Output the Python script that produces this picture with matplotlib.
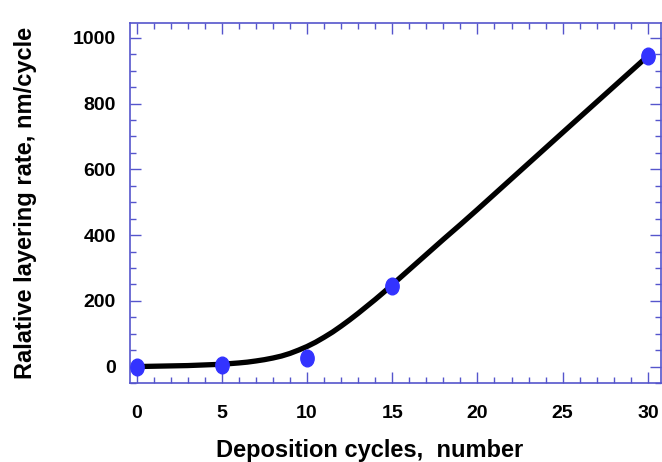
import matplotlib
matplotlib.use("Agg")
import matplotlib.pyplot as plt
from matplotlib.ticker import MultipleLocator
from matplotlib.path import Path
from matplotlib.transforms import Affine2D

# measured points
cycles = [0, 5, 10, 15, 30]
rate = [0, 5, 25, 245, 945]

# fitted curve
curve_x = [0, 1, 2, 3, 4, 5, 5.5, 6, 6.5, 7, 7.5, 8, 8.5, 9, 9.5, 10, 10.5, 11, 11.5, 12,
           12.5, 13, 13.5, 14, 14.5, 15, 15.5, 16, 16.5, 17, 18, 19, 20, 25, 30]
curve_y = [0, 1, 2, 3, 5, 7, 9, 11, 13.5, 17, 21, 26, 32, 40, 50, 61, 74, 89, 105, 123,
           142, 162, 183, 204, 226, 249, 272, 295, 318, 341, 387, 432, 478, 712, 945]

plt.rcParams['font.family'] = ['Liberation Sans', 'DejaVu Sans']
fig = plt.figure(figsize=(6.62, 4.62), dpi=100)
ax = fig.add_axes([0.196, 0.171, 0.802, 0.779])

ellipse = Path.unit_circle().transformed(Affine2D().scale(0.8, 1.0))

ax.plot(curve_x, curve_y, color='black', lw=3.8, solid_capstyle='round',
        solid_joinstyle='round', zorder=2)
ax.plot(cycles, rate, linestyle='none', marker=ellipse, color='#3333ff',
        markersize=12, zorder=3, clip_on=False)

ax.set_xlim(-0.4, 30.75)
ax.set_ylim(-50, 1045)
ax.xaxis.set_major_locator(MultipleLocator(5))
ax.xaxis.set_minor_locator(MultipleLocator(1))
ax.yaxis.set_major_locator(MultipleLocator(200))
ax.yaxis.set_minor_locator(MultipleLocator(50))

spc = '#5555cc'
for s in ax.spines.values():
    s.set_color(spc)
    s.set_linewidth(1.2)
ax.tick_params(which='both', direction='in', top=True, right=True, color=spc, width=1)
ax.tick_params(which='major', length=8)
ax.tick_params(which='minor', length=4)
ax.tick_params(axis='x', which='major', pad=16, labelsize=14)
ax.tick_params(axis='y', which='major', pad=10, labelsize=14)
for lab in ax.get_xticklabels() + ax.get_yticklabels():
    lab.set_fontweight('bold')

ax.set_xlabel('Deposition cycles,  number', fontsize=17, fontweight='bold',
              labelpad=12, x=0.452)
ax.set_ylabel('Ralative layering rate, nm/cycle', fontsize=17, fontweight='bold', labelpad=26)

fig.savefig('out.png', dpi=100)
